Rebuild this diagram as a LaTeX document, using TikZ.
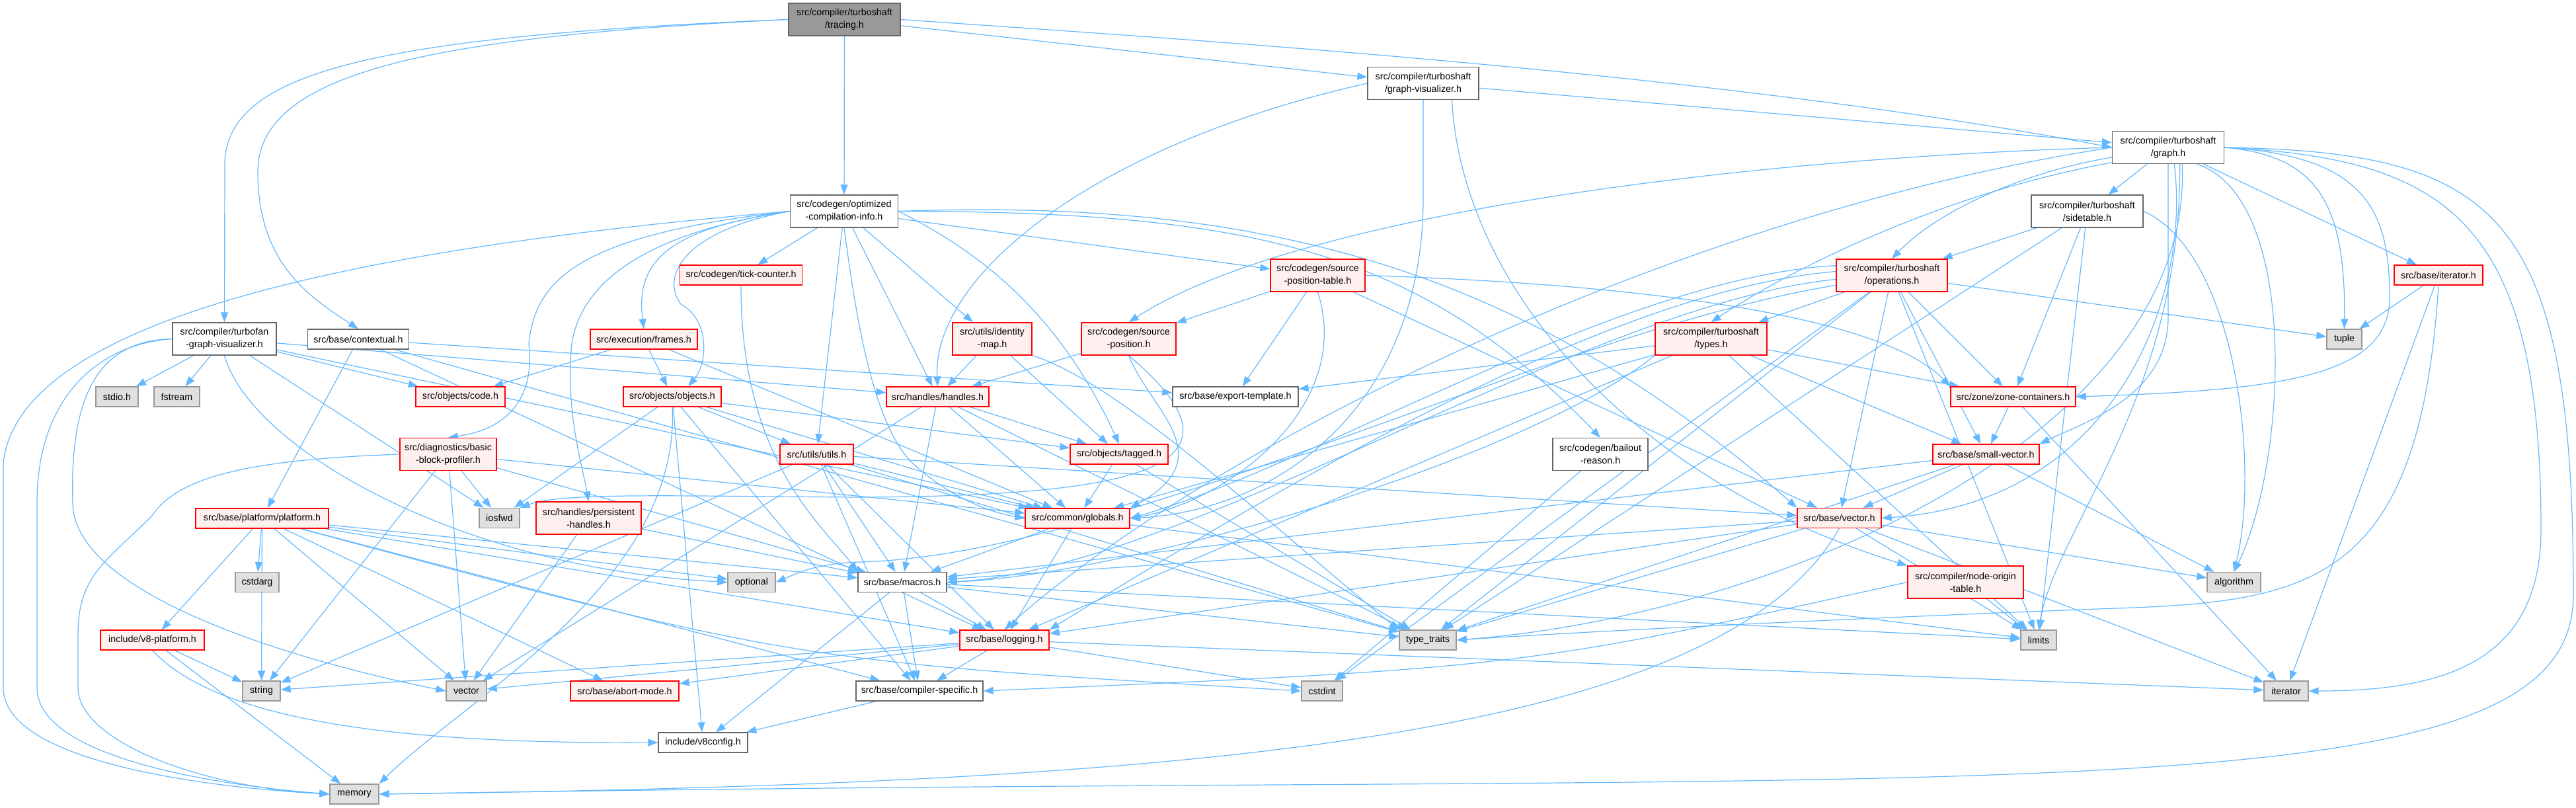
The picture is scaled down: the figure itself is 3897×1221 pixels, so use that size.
\documentclass[tikz,border=0pt]{standalone}
\usepackage{fontspec}
\setmainfont{Liberation Sans}
\usetikzlibrary{arrows.meta,backgrounds}
\definecolor{edgeblue}{HTML}{63B8FF}
\definecolor{truncfill}{HTML}{FFF0F0}
\definecolor{sysfill}{HTML}{E0E0E0}
\definecolor{sysline}{HTML}{999999}
\definecolor{rootfill}{HTML}{999999}
\definecolor{boxline}{HTML}{666666}
\newcommand\dotfont{\fontsize{14.3}{19}\selectfont}

\begin{document}
\begin{tikzpicture}[x=1pt,y=-1pt,
  file/.style={draw,line width=1.3pt,minimum height=30pt,inner sep=0pt,align=center,font=\dotfont},
  tall/.style={minimum height=49pt},
  rootfile/.style={file,fill=rootfill,draw=boxline},
  localfile/.style={file,fill=white,draw=boxline},
  truncfile/.style={file,fill=truncfill,draw=red},
  sysfile/.style={file,fill=sysfill,draw=sysline},
  dep/.style={draw=edgeblue,line width=1.2pt,-{Triangle[length=15pt,width=11pt]}}]
\useasboundingbox (0,0) rectangle (3897,1221);

\node[rootfile,tall,minimum width=169pt] (tracing) at (1277.5,29.5) {src/compiler/turboshaft\\/tracing.h};
\node[localfile,tall,minimum width=168pt] (gviz) at (2153,126) {src/compiler/turboshaft\\/graph-visualizer.h};
\node[localfile,tall,minimum width=169pt] (graph) at (3280,223) {src/compiler/turboshaft\\/graph.h};
\node[localfile,tall,minimum width=163pt] (optinfo) at (1277,319.5) {src/codegen/optimized\\-compilation-info.h};
\node[localfile,tall,minimum width=169pt] (sidetable) at (3157.5,319.5) {src/compiler/turboshaft\\/sidetable.h};

\node[truncfile,minimum width=185pt] (ticks) at (1121,416) {src/codegen/tick-counter.h};
\node[truncfile,tall,minimum width=143pt] (spt) at (1993.5,416.5) {src/codegen/source\\-position-table.h};
\node[truncfile,tall,minimum width=168pt] (ops) at (2862,416.5) {src/compiler/turboshaft\\/operations.h};
\node[truncfile,minimum width=134pt] (iterh) at (3689,416) {src/base/iterator.h};

\node[localfile,tall,minimum width=157pt] (tfgviz) at (339.5,512.5) {src/compiler/turbofan\\-graph-visualizer.h};
\node[localfile,minimum width=153pt] (contextual) at (542,513) {src/base/contextual.h};
\node[truncfile,minimum width=162pt] (frames) at (974,513) {src/execution/frames.h};
\node[truncfile,tall,minimum width=120pt] (identmap) at (1501,512.5) {src/utils/identity\\-map.h};
\node[truncfile,tall,minimum width=143pt] (srcpos) at (1707.5,512.5) {src/codegen/source\\-position.h};
\node[truncfile,tall,minimum width=169pt] (types) at (2588.5,512.5) {src/compiler/turboshaft\\/types.h};
\node[sysfile,minimum width=53pt] (tuple) at (3546.5,513) {tuple};

\node[sysfile,minimum width=64pt] (stdio) at (177,600) {stdio.h};
\node[sysfile,minimum width=69pt] (fstream) at (267.5,600) {fstream};
\node[truncfile,minimum width=135pt] (code) at (696.5,600) {src/objects/code.h};
\node[truncfile,minimum width=148pt] (objects) at (1017,600) {src/objects/objects.h};
\node[truncfile,minimum width=155pt] (handles) at (1418.5,600) {src/handles/handles.h};
\node[localfile,minimum width=190pt] (exporttpl) at (1869,600) {src/base/export-template.h};
\node[truncfile,minimum width=189pt] (zonecont) at (3045.5,600) {src/zone/zone-containers.h};

\node[truncfile,tall,minimum width=146pt] (bbprof) at (678,687) {src/diagnostics/basic\\-block-profiler.h};
\node[truncfile,minimum width=111pt] (utils) at (1235.5,687) {src/utils/utils.h};
\node[truncfile,minimum width=148pt] (tagged) at (1693,687) {src/objects/tagged.h};
\node[localfile,tall,minimum width=144pt] (bailout) at (2421,687) {src/codegen/bailout\\-reason.h};
\node[truncfile,minimum width=161pt] (smallvec) at (3004.5,687) {src/base/small-vector.h};

\node[truncfile,minimum width=201pt] (platform) at (396.5,784) {src/base/platform/platform.h};
\node[sysfile,minimum width=61pt] (iosfwd) at (755.5,783.5) {iosfwd};
\node[truncfile,tall,minimum width=159pt] (persist) at (890.5,783.5) {src/handles/persistent\\-handles.h};
\node[truncfile,minimum width=158pt] (globals) at (1630,784) {src/common/globals.h};
\node[truncfile,minimum width=127pt] (vector) at (2782.5,783.5) {src/base/vector.h};

\node[sysfile,minimum width=66pt] (cstdarg) at (389,880.5) {cstdarg};
\node[sysfile,minimum width=72pt] (optional) at (1137,880.5) {optional};
\node[localfile,minimum width=134pt] (macros) at (1365,880.5) {src/base/macros.h};
\node[truncfile,tall,minimum width=175pt] (nodeorigin) at (2973.5,880.5) {src/compiler/node-origin\\-table.h};
\node[sysfile,minimum width=81pt] (algorithm) at (3379.5,880.5) {algorithm};

\node[truncfile,minimum width=157pt] (v8platform) at (230.5,968) {include/v8-platform.h};
\node[truncfile,minimum width=135pt] (logging) at (1519.5,968) {src/base/logging.h};
\node[sysfile,minimum width=86pt] (typetraits) at (2160,968) {type\_traits};
\node[sysfile,minimum width=54pt] (limits) at (3084,968) {limits};

\node[sysfile,minimum width=57pt] (string) at (395.5,1045) {string};
\node[sysfile,minimum width=61pt] (vectorstd) at (705.5,1045) {vector};
\node[truncfile,minimum width=164pt] (abortmode) at (945,1045) {src/base/abort-mode.h};
\node[localfile,minimum width=192pt] (compspec) at (1391,1045) {src/base/compiler-specific.h};
\node[sysfile,minimum width=62pt] (cstdint) at (2000,1045) {cstdint};
\node[sysfile,minimum width=67pt] (iterator) at (3458.5,1045) {iterator};

\node[localfile,minimum width=135pt] (v8config) at (1063.5,1123) {include/v8config.h};
\node[sysfile,minimum width=74pt] (memory) at (536,1201) {memory};

% include edges
\begin{scope}[on background layer]
\foreach \src/\dst in {tracing/optinfo, tracing/gviz,
  optinfo/ticks, optinfo/utils, optinfo/handles, optinfo/identmap, optinfo/spt,
  gviz/graph,
  graph/sidetable, graph/iterh,
  sidetable/ops, sidetable/zonecont, sidetable/limits, sidetable/typetraits,
  tfgviz/stdio, tfgviz/fstream, tfgviz/code, tfgviz/handles, tfgviz/globals, tfgviz/iosfwd,
  contextual/exporttpl, contextual/platform, contextual/logging, contextual/typetraits,
  spt/srcpos, spt/exporttpl, spt/vector,
  ops/types, ops/zonecont, ops/smallvec, ops/vector, ops/tuple, ops/limits, ops/cstdint,
  ops/typetraits,
  iterh/tuple, iterh/iterator,
  frames/code, frames/objects, frames/globals,
  identmap/handles, identmap/tagged,
  srcpos/handles,
  types/exporttpl, types/zonecont, types/smallvec, types/globals, types/logging, types/limits,
  objects/iosfwd, objects/utils, objects/tagged, objects/globals, objects/compspec, objects/v8config,
  handles/tagged, handles/globals, handles/macros, handles/vectorstd, handles/typetraits,
  zonecont/smallvec, zonecont/iterator,
  bbprof/iosfwd, bbprof/globals, bbprof/macros, bbprof/string, bbprof/vectorstd,
  utils/globals, utils/vector, utils/string, utils/macros, utils/logging,
  utils/typetraits, utils/compspec,
  tagged/globals, tagged/typetraits,
  bailout/cstdint,
  smallvec/vector, smallvec/macros, smallvec/algorithm, smallvec/typetraits,
  persist/vectorstd, persist/macros,
  platform/cstdarg, platform/v8platform, platform/string, platform/vectorstd,
  platform/abortmode, platform/optional, platform/macros, platform/compspec, platform/logging,
  globals/macros, globals/logging, globals/limits,
  vector/macros, vector/logging, vector/algorithm, vector/limits, vector/iterator, vector/typetraits,
  nodeorigin/limits,
  macros/logging, macros/compspec, macros/v8config, macros/typetraits, macros/limits,
  logging/compspec, logging/abortmode, logging/string, logging/vectorstd,
  logging/cstdint, logging/iterator,
  v8platform/string, v8platform/memory,
  compspec/v8config}
  \draw[dep] (\src) -- (\dst);

% routed edges
\draw[dep] (tracing.east) .. controls (1800,60) and (2600,110) .. (graph.west);
\draw[dep] (tracing.west) .. controls (560,55) and (340,110) .. (340,250) -- (tfgviz.north);
\draw[dep] (tracing.west) .. controls (650,55) and (390,110) .. (390,260) .. controls (390,400) and (470,450) .. (contextual.north);

\draw[dep] (optinfo.west) .. controls (600,370) and (30,470) .. (5,700) -- (5,1040) .. controls (5,1150) and (300,1190) .. (memory.west);
\draw[dep] (optinfo.west) .. controls (880,355) and (810,420) .. (800,520) .. controls (810,610) and (760,650) .. (bbprof.north);
\draw[dep] (optinfo.west) .. controls (990,350) and (880,420) .. (865,520) .. controls (855,620) and (880,700) .. (persist.north);
\draw[dep] (optinfo.west) .. controls (1020,345) and (960,390) .. (frames.north);
\draw[dep] (optinfo.west) .. controls (1030,350) and (1000,420) .. (1030,460) .. controls (1075,485) and (1070,550) .. (objects.33);
\draw[dep] (optinfo.south) .. controls (1295,480) and (1320,640) .. (1380,700) .. controls (1440,755) and (1500,775) .. (globals.west);
\draw[dep] (optinfo.east) .. controls (1480,380) and (1600,470) .. (tagged.north);
\draw[dep] (optinfo.east) .. controls (1900,320) and (2150,380) .. (bailout.north);
\draw[dep] (optinfo.east) .. controls (1900,300) and (2300,400) .. (vector.north west);

\draw[dep] (gviz.west) .. controls (1650,220) and (1410,420) .. (handles.north);
\draw[dep] (gviz.south) -- (2153,300) .. controls (2153,600) and (1950,770) .. (globals.east);
\draw[dep] (gviz.-30) .. controls (2210,420) and (2450,720) .. (nodeorigin.north west);

\draw[dep] (graph.190) .. controls (3060,260) and (2930,320) .. (ops.north);
\draw[dep] (graph.195) .. controls (2950,290) and (2720,400) .. (types.north);
\draw[dep] (graph.west) .. controls (2600,240) and (1950,330) .. (srcpos.north);
\draw[dep] (graph.west) .. controls (2500,330) and (1800,700) .. (logging.north);
\draw[dep] (graph.east) .. controls (3500,235) and (3549,300) .. (tuple.north);
\draw[dep] (graph.east) .. controls (3580,235) and (3615,320) .. (3615,450) .. controls (3615,570) and (3450,590) .. (zonecont.east);
\draw[dep] (graph.south) -- (3280,480) .. controls (3280,600) and (3150,640) .. (smallvec.north east);
\draw[dep] (graph.-70) .. controls (3315,450) and (3200,760) .. (vector.east);
\draw[dep] (graph.-55) .. controls (3300,600) and (3110,800) .. (limits.north);
\draw[dep] (graph.-50) .. controls (3320,650) and (2700,930) .. (typetraits.east);
\draw[dep] (graph.-30) .. controls (3480,300) and (3460,700) .. (algorithm.north);
\draw[dep] (graph.east) .. controls (3700,240) and (3844,330) .. (3844,800) .. controls (3844,1000) and (3700,1045) .. (iterator.east);
\draw[dep] (graph.east) .. controls (3780,230) and (3893,320) .. (3893,900) .. controls (3893,1250) and (3000,1160) .. (memory.east);
\draw[dep] (sidetable.east) .. controls (3380,380) and (3420,700) .. (algorithm.north);

\draw[dep] (tfgviz.west) .. controls (150,520) and (56,600) .. (56,760) -- (56,1040) .. controls (56,1140) and (300,1185) .. (memory.west);
\draw[dep] (tfgviz.west) .. controls (160,515) and (105,580) .. (110,760) .. controls (110,900) and (450,1000) .. (vectorstd.west);
\draw[dep] (tfgviz.south) .. controls (380,680) and (700,860) .. (optional.west);
\draw[dep] (bbprof.west) .. controls (380,695) and (270,720) .. (230,780) .. controls (160,850) and (118,870) .. (118,960) -- (118,1040) .. controls (118,1120) and (300,1190) .. (memory.west);

\draw[dep] (spt.south) .. controls (2050,620) and (1850,760) .. (globals.east);
\draw[dep] (spt.east) .. controls (2500,430) and (2850,480) .. (zonecont.north west);
\draw[dep] (ops.170) .. controls (2450,420) and (2000,700) .. (globals.east);
\draw[dep] (ops.176) .. controls (2420,440) and (1900,760) .. (logging.north east);
\draw[dep] (ops.184) .. controls (2400,460) and (1800,860) .. (macros.east);
\draw[dep] (ops.190) .. controls (2350,500) and (1700,840) .. (1300,850) .. controls (1230,852) and (1200,870) .. (optional.east);
\draw[dep] (iterh.south) .. controls (3660,880) and (3500,910) .. (3200,920) .. controls (2800,935) and (2400,955) .. (typetraits.east);
\draw[dep] (identmap.south east) .. controls (1700,580) and (1950,820) .. (typetraits.north west);
\draw[dep] (srcpos.south) .. controls (1740,620) and (1850,690) .. (globals.north east);
\draw[dep] (srcpos.south) .. controls (1900,700) and (1750,750) .. (1300,752) .. controls (1000,750) and (850,745) .. (iosfwd.north east);
\draw[dep] (types.south west) .. controls (2300,700) and (1700,870) .. (macros.east);
\draw[dep] (objects.south) .. controls (1030,880) and (700,1060) .. (memory.north east);
\draw[dep] (platform) .. controls (1200,1000) .. (cstdint.west);
\draw[dep] (nodeorigin.west) .. controls (2300,1010) .. (compspec.east);
\draw[dep] (v8platform.south) .. controls (330,1090) and (600,1125) .. (v8config.west);
\draw[dep] (ticks.south) .. controls (1120,700) and (1250,800) .. (macros.north west);
\draw[dep] (vector.south) .. controls (2600,1120) and (1800,1185) .. (memory.east);
\end{scope}
\end{tikzpicture}
\end{document}
